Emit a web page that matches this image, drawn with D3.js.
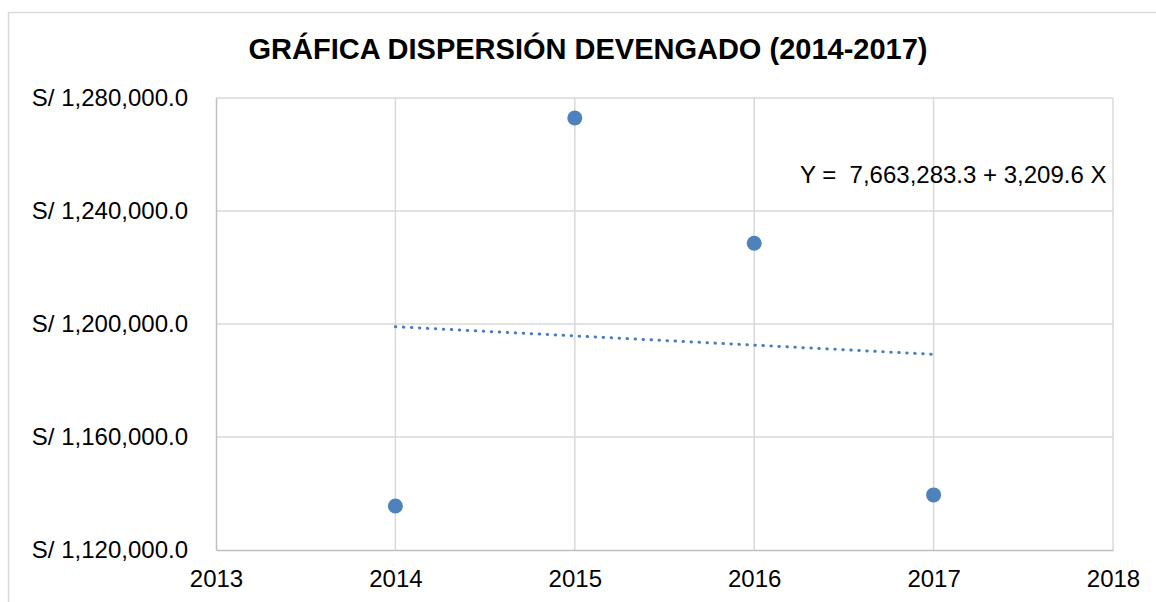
<!DOCTYPE html>
<html>
<head>
<meta charset="utf-8">
<script src="https://d3js.org/d3.v7.min.js"></script>
<style>
  body { margin: 0; background: #fff; }
  text { font-family: "Liberation Sans", Arial, sans-serif; }
</style>
</head>
<body>
  <div id="my_dataviz"></div>
  <script>
    var years = [2014, 2015, 2016, 2017];
    var devengado = [1135600, 1272900, 1228600, 1139500];
    var xTicks = [2013, 2014, 2015, 2016, 2017, 2018];
    var yTicks = [1120000, 1160000, 1200000, 1240000, 1280000];
    var titulo = "GRÁFICA DISPERSIÓN DEVENGADO (2014-2017)";
    var ecuacion = "Y =  7,663,283.3 + 3,209.6 X";

    var W = 1156, H = 602;
    var margin = {top: 98, right: 43, bottom: 52, left: 216};
    var width = W - margin.left - margin.right,
        height = H - margin.top - margin.bottom;

    var svg = d3.select("#my_dataviz")
      .append("svg")
      .attr("width", W)
      .attr("height", H);

    // marco del grafico
    svg.append("rect")
      .attr("x", 8.5).attr("y", 12.5)
      .attr("width", W + 10).attr("height", H + 10)
      .style("fill", "none")
      .style("stroke", "#d9d9d9")
      .style("stroke-width", 1.5);

    svg.append("text")
      .attr("x", 588).attr("y", 59)
      .attr("text-anchor", "middle")
      .style("font-size", "29px")
      .style("font-weight", "bold")
      .text(titulo);

    var g = svg.append("g")
      .attr("transform", "translate(" + margin.left + "," + margin.top + ")");

    var x = d3.scaleLinear().domain([2013, 2018]).range([0, width]);
    var y = d3.scaleLinear().domain([1120000, 1280000]).range([height, 0]);

    // cuadricula
    g.selectAll(".hgrid")
      .data(yTicks.slice(1))
      .enter().append("line")
      .attr("x1", 0).attr("x2", width)
      .attr("y1", d => y(d)).attr("y2", d => y(d))
      .style("stroke", "#d9d9d9").style("stroke-width", 1.5);

    g.selectAll(".vgrid")
      .data(xTicks.slice(1))
      .enter().append("line")
      .attr("x1", d => x(d)).attr("x2", d => x(d))
      .attr("y1", 0).attr("y2", height)
      .style("stroke", "#d9d9d9").style("stroke-width", 1.5);

    // ejes
    var yAxis = g.append("g")
      .call(d3.axisLeft(y).tickValues(yTicks).tickSize(0).tickPadding(28)
        .tickFormat(d => "S/ " + d3.format(",.1f")(d)));
    yAxis.select(".domain").style("stroke", "#bfbfbf").style("stroke-width", 1.5);
    yAxis.selectAll("text")
      .style("font-size", "24px").style("font-family", "Liberation Sans, Arial, sans-serif")
      .style("fill", "#000");

    var xAxis = g.append("g")
      .attr("transform", "translate(0," + height + ")")
      .call(d3.axisBottom(x).tickValues(xTicks).tickSize(0).tickPadding(20)
        .tickFormat(d3.format("d")));
    xAxis.select(".domain").style("stroke", "#bfbfbf").style("stroke-width", 1.5);
    xAxis.selectAll("text")
      .style("font-size", "24px").style("font-family", "Liberation Sans, Arial, sans-serif")
      .style("fill", "#000");

    // linea de tendencia (minimos cuadrados)
    var mx = d3.mean(years), my = d3.mean(devengado);
    var b = d3.sum(years, (d, i) => (d - mx) * (devengado[i] - my)) /
            d3.sum(years, d => (d - mx) * (d - mx));
    var a = my - b * mx;
    var ext = d3.extent(years);

    g.append("line")
      .attr("x1", x(ext[0])).attr("y1", y(a + b * ext[0]))
      .attr("x2", x(ext[1])).attr("y2", y(a + b * ext[1]))
      .style("stroke", "#4a7ebb")
      .style("stroke-width", 3)
      .style("stroke-linecap", "round")
      .style("stroke-dasharray", "0.5 7.5");

    g.selectAll("circle")
      .data(years)
      .enter().append("circle")
      .attr("cx", d => x(d))
      .attr("cy", (d, i) => y(devengado[i]))
      .attr("r", 7.5)
      .style("fill", "#4f81bd");

    svg.append("text")
      .attr("x", 800).attr("y", 183)
      .attr("xml:space", "preserve")
      .style("white-space", "pre")
      .style("font-size", "24px")
      .text(ecuacion);
  </script>
</body>
</html>
